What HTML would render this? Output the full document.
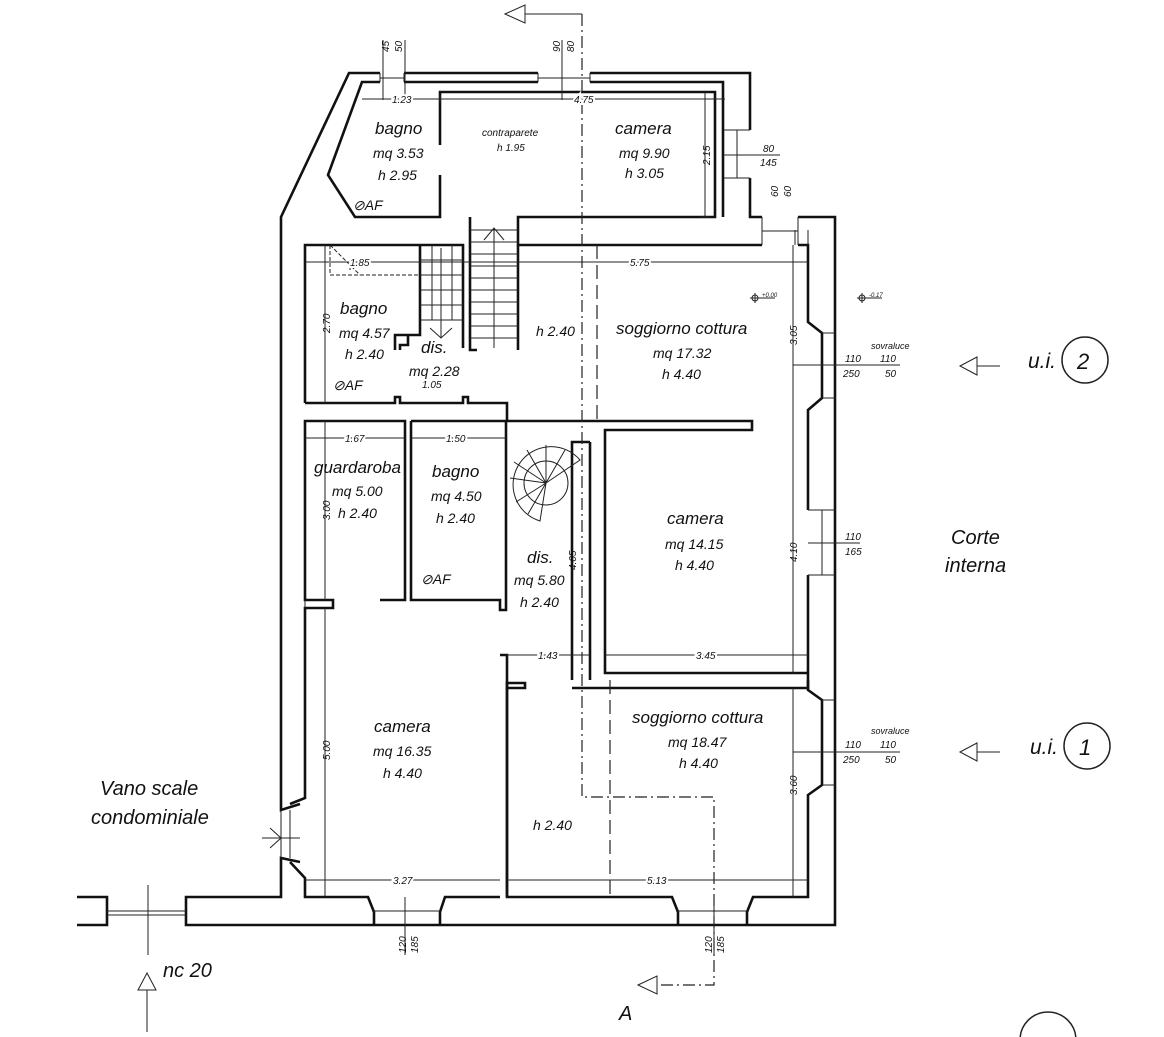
<!DOCTYPE html>
<html><head><meta charset="utf-8"><style>
html,body{margin:0;padding:0;background:#fff;}
svg{display:block;}
text{font-family:"Liberation Sans",sans-serif;font-style:italic;fill:#111;}
.n{font-size:17px;}
.m{font-size:14px;}
.d{font-size:10px;font-style:normal;}
.w{stroke:#111;stroke-width:2.6;fill:none;}
.t{stroke:#222;stroke-width:1;fill:none;}
.dd{stroke:#222;stroke-width:1.2;fill:none;stroke-dasharray:12 4 2 4;}
.ds{stroke:#222;stroke-width:1.2;fill:none;stroke-dasharray:14 6;}
</style></head><body>
<svg width="1164" height="1037" viewBox="0 0 1164 1037" xmlns="http://www.w3.org/2000/svg">
<rect width="1164" height="1037" fill="#fff"/>
<!-- outer walls -->
<path class="w" d="M380,73 L349,73 L281,217 L281,810 L300,804 M300,862 L281,858 L281,897 L186,897 L186,925 L835,925 L835,217 L798,217 M762,217 L750,217 L750,178 M750,130 L750,73 L590,73 M538,73 L404,73"/>
<path class="t" d="M380,73 V82 M404,73 V82 M380,78 H404 M538,73 V82 M590,73 V82 M538,78 H590 M750,130 H723 M750,178 H723 M737,130 V178 M762,217 V245 M798,217 V245 M762,231 H798"/>
<path class="w" d="M77,897 L107,897 L107,925 L77,925"/>
<path class="t" d="M107,911 H186 M107,915 H186"/>
<!-- top inner -->
<path class="w" d="M380,82 L362,82 L328,175 L355,217 L440,217 L440,175 M440,145 L440,92 L715,92 L715,217 L518,217 L518,245 L762,245 M723,217 L723,130 M723,178 L723,217 M723,130 L723,82 L590,82 M538,82 L404,82"/>
<path class="w" d="M798,245 L808,245 L808,322 L822,333 L822,398 L808,410 L808,510 M808,575 L808,690 L822,700 L822,785 L808,795 L808,897 L753,897 L747,912 L747,925 M678,925 L678,912 L672,897 L507,897 L507,683 L525,683 L525,688 L507,688 M500,897 L445,897 L440,912 L440,925 M374,925 L374,912 L368,897 L305,897 L305,878 L290,862 M290,804 L305,798 L305,608 L333,608 L333,600 L305,600 L305,421 L405,421 L405,600 L380,600 M305,403 L305,245 L420,245"/>
<path class="t" d="M822,333 L835,333 M822,398 L835,398 M808,510 H835 M808,575 H835 M822,510 V575 M822,700 H835 M822,785 H835 M374,911 H440 M678,911 H747 M305,600 V608"/>
<path class="t" d="M281,810 V858 M290,810 V858 M262,838 H300 M270,828 L281,838 L270,848"/>
<!-- upper left zone walls -->
<path class="w" d="M395,350 L395,335 L420,335 L420,245 M400,350 L400,345 L408,345 L408,335"/>
<path class="w" d="M305,403 L395,403 L395,397 L400,397 L400,403 L463,403 L463,397 L468,397 L468,403 L507,403 L507,421 L752,421 L752,430 L605,430 L605,673 L808,673 M590,442 L572,442 L572,680 M590,442 L590,680 M572,688 L808,688 L808,680"/>
<path class="w" d="M411,421 L500,421 M411,421 L411,600 L500,600 L500,610 L506,610 L506,421 L500,421"/>
<path class="w" d="M500,655 L507,655 L507,897"/>
<path class="w" d="M470,217 L470,350 L477,350 M518,245 L518,350 M420,245 L463,245 L463,348"/>
<!-- stairs -->
<g class="t">
<path d="M470,230 H518 M470,242 H518 M470,254 H518 M470,266 H518 M470,278 H518 M470,290 H518 M470,302 H518 M470,314 H518 M470,326 H518 M470,338 H518 M494,228 V348 M484,240 L494,228 L504,240"/>
<path d="M420,260 H463 M420,275 H463 M420,290 H463 M420,305 H463 M420,320 H463 M432,245 V320 M452,245 V320 M430,328 L441,338 L452,328 M441,248 V338"/>
<path d="M330,245 V275 H420 M330,245 L360,275 M350,260 V270" stroke-dasharray="4 2"/>
<path d="M546,483 L580,460 A38,38 0 1,0 540,521 Z"/>
<path d="M546,483 L510,478 M546,483 L514,462 M546,483 L527,450 M546,483 L546,445 M546,483 L565,450 M546,483 L516,502 M546,483 L528,514"/>
<circle cx="546" cy="483" r="22"/>
</g>
<!-- section lines -->
<path class="dd" d="M582,14 V797 H714 V985 H655"/>
<path class="t" d="M582,14 H525"/>
<polygon points="505,14 525,5 525,23" fill="#fff" stroke="#222"/>
<polygon points="638,985 657,976 657,994" fill="#fff" stroke="#222"/>
<path class="ds" d="M597,245 V420 M610,680 V897"/>
<!-- dimension lines -->
<g class="t">
<path d="M362,99 H725 M440,95 V103 M705,92 V217 M700,217 H710 M305,262 H808 M793,245 V673 M325,245 V403 M325,421 V600 M325,608 V897 M305,438 H405 M411,438 H506 M507,655 H590 M605,655 H808 M305,880 H500 M507,880 H808 M793,688 V897"/>
<path d="M383,40 V100 M405,40 V100 M562,40 V100 M795,230 V245 M808,230 V245"/>
<path d="M723,155 H778 M758,155 H780 M793,365 H900 M808,543 H860 M793,752 H900 M148,885 V955 M405,897 V955 M714,897 V955"/>
<path d="M1000,366 H977 M1000,752 H977"/>
</g>
<polygon points="960,366 977,357 977,375" fill="#fff" stroke="#222"/>
<polygon points="960,752 977,743 977,761" fill="#fff" stroke="#222"/>
<polygon points="147,973 138,990 156,990" fill="#fff" stroke="#222"/>
<path class="t" d="M147,990 V1032"/>
<circle cx="1085" cy="360" r="23" fill="none" stroke="#222" stroke-width="1.5"/>
<circle cx="1087" cy="746" r="23" fill="none" stroke="#222" stroke-width="1.5"/>
<circle cx="1048" cy="1040" r="28" fill="none" stroke="#222" stroke-width="1.5"/>
<!-- labels -->
<text class="n" x="375" y="134">bagno</text>
<text class="m" x="373" y="158">mq 3.53</text>
<text class="m" x="378" y="180">h 2.95</text>
<text class="m" x="353" y="210">⊘AF</text>
<text class="d" x="482" y="136" style="font-style:italic">contraparete</text>
<text class="d" x="497" y="151" style="font-style:italic">h 1.95</text>
<text class="n" x="615" y="134">camera</text>
<text class="m" x="619" y="158">mq 9.90</text>
<text class="m" x="625" y="178">h 3.05</text>
<text class="n" x="340" y="314">bagno</text>
<text class="m" x="339" y="338">mq 4.57</text>
<text class="m" x="345" y="359">h 2.40</text>
<text class="m" x="333" y="390">⊘AF</text>
<text class="n" x="421" y="353">dis.</text>
<text class="m" x="409" y="376">mq 2.28</text>
<text class="m" x="536" y="336">h 2.40</text>
<text class="n" x="616" y="334">soggiorno cottura</text>
<text class="m" x="653" y="358">mq 17.32</text>
<text class="m" x="662" y="379">h 4.40</text>
<text class="n" x="314" y="473">guardaroba</text>
<text class="m" x="332" y="496">mq 5.00</text>
<text class="m" x="338" y="518">h 2.40</text>
<text class="n" x="432" y="477">bagno</text>
<text class="m" x="431" y="501">mq 4.50</text>
<text class="m" x="436" y="523">h 2.40</text>
<text class="m" x="421" y="584">⊘AF</text>
<text class="n" x="527" y="563">dis.</text>
<text class="m" x="514" y="585">mq 5.80</text>
<text class="m" x="520" y="607">h 2.40</text>
<text class="n" x="667" y="524">camera</text>
<text class="m" x="665" y="549">mq 14.15</text>
<text class="m" x="675" y="570">h 4.40</text>
<text class="n" x="632" y="723">soggiorno cottura</text>
<text class="m" x="668" y="747">mq 18.47</text>
<text class="m" x="679" y="768">h 4.40</text>
<text class="n" x="374" y="732">camera</text>
<text class="m" x="373" y="756">mq 16.35</text>
<text class="m" x="383" y="778">h 4.40</text>
<text class="m" x="533" y="830">h 2.40</text>
<text x="100" y="795" style="font-size:20px">Vano scale</text>
<text x="91" y="824" style="font-size:20px">condominiale</text>
<text x="951" y="544" style="font-size:20px">Corte</text>
<text x="945" y="572" style="font-size:20px">interna</text>
<text x="1028" y="368" style="font-size:21px">u.i.</text>
<text x="1077" y="369" style="font-size:22px">2</text>
<text x="1030" y="754" style="font-size:21px">u.i.</text>
<text x="1079" y="755" style="font-size:22px">1</text>
<text x="163" y="977" style="font-size:20px">nc 20</text>
<text x="619" y="1020" style="font-size:20px">A</text>
<!-- dims -->
<g class="d">
<text x="392" y="103" fill="#fff" stroke="#fff" stroke-width="4">1.23</text><text x="392" y="103">1.23</text>
<text x="574" y="103" fill="#fff" stroke="#fff" stroke-width="4">4.75</text><text x="574" y="103">4.75</text>
<text x="350" y="266" fill="#fff" stroke="#fff" stroke-width="4">1.85</text><text x="350" y="266">1.85</text>
<text x="630" y="266" fill="#fff" stroke="#fff" stroke-width="4">5.75</text><text x="630" y="266">5.75</text>
<text x="422" y="388">1.05</text>
<text x="345" y="442" fill="#fff" stroke="#fff" stroke-width="4">1.67</text><text x="345" y="442">1.67</text>
<text x="446" y="442" fill="#fff" stroke="#fff" stroke-width="4">1.50</text><text x="446" y="442">1.50</text>
<text x="538" y="659" fill="#fff" stroke="#fff" stroke-width="4">1.43</text><text x="538" y="659">1.43</text>
<text x="696" y="659" fill="#fff" stroke="#fff" stroke-width="4">3.45</text><text x="696" y="659">3.45</text>
<text x="393" y="884" fill="#fff" stroke="#fff" stroke-width="4">3.27</text><text x="393" y="884">3.27</text>
<text x="647" y="884" fill="#fff" stroke="#fff" stroke-width="4">5.13</text><text x="647" y="884">5.13</text>
<text x="763" y="152">80</text><text x="760" y="166">145</text>
<text x="845" y="362">110</text><text x="880" y="362">110</text>
<text x="843" y="377">250</text><text x="885" y="377">50</text>
<text x="871" y="349" style="font-size:9px">sovraluce</text>
<text x="845" y="540">110</text><text x="845" y="555">165</text>
<text x="845" y="748">110</text><text x="880" y="748">110</text>
<text x="843" y="763">250</text><text x="885" y="763">50</text>
<text x="871" y="734" style="font-size:9px">sovraluce</text>
<text x="762" y="297" style="font-size:6px">+0.00</text>
<text x="869" y="297" style="font-size:6px">-0.17</text>
<text transform="translate(330,333) rotate(-90)">2.70</text>
<text transform="translate(330,520) rotate(-90)">3.00</text>
<text transform="translate(330,760) rotate(-90)">5.00</text>
<text transform="translate(710,165) rotate(-90)">2.15</text>
<text transform="translate(797,345) rotate(-90)">3.05</text>
<text transform="translate(797,562) rotate(-90)">4.10</text>
<text transform="translate(797,795) rotate(-90)">3.60</text>
<text transform="translate(576,570) rotate(-90)">4.05</text>
<text transform="translate(389,52) rotate(-90)">45</text>
<text transform="translate(402,52) rotate(-90)">50</text>
<text transform="translate(560,52) rotate(-90)">90</text>
<text transform="translate(574,52) rotate(-90)">80</text>
<text transform="translate(778,197) rotate(-90)">60</text>
<text transform="translate(791,197) rotate(-90)">60</text>
<text transform="translate(406,953) rotate(-90)">120</text>
<text transform="translate(418,953) rotate(-90)">185</text>
<text transform="translate(712,953) rotate(-90)">120</text>
<text transform="translate(724,953) rotate(-90)">185</text>
</g>
<g class="t"><circle cx="755" cy="298" r="3"/><path d="M750,298 H775 M755,293 V303"/><circle cx="862" cy="298" r="3"/><path d="M857,298 H882 M862,293 V303"/></g>
</svg>
</body></html>
